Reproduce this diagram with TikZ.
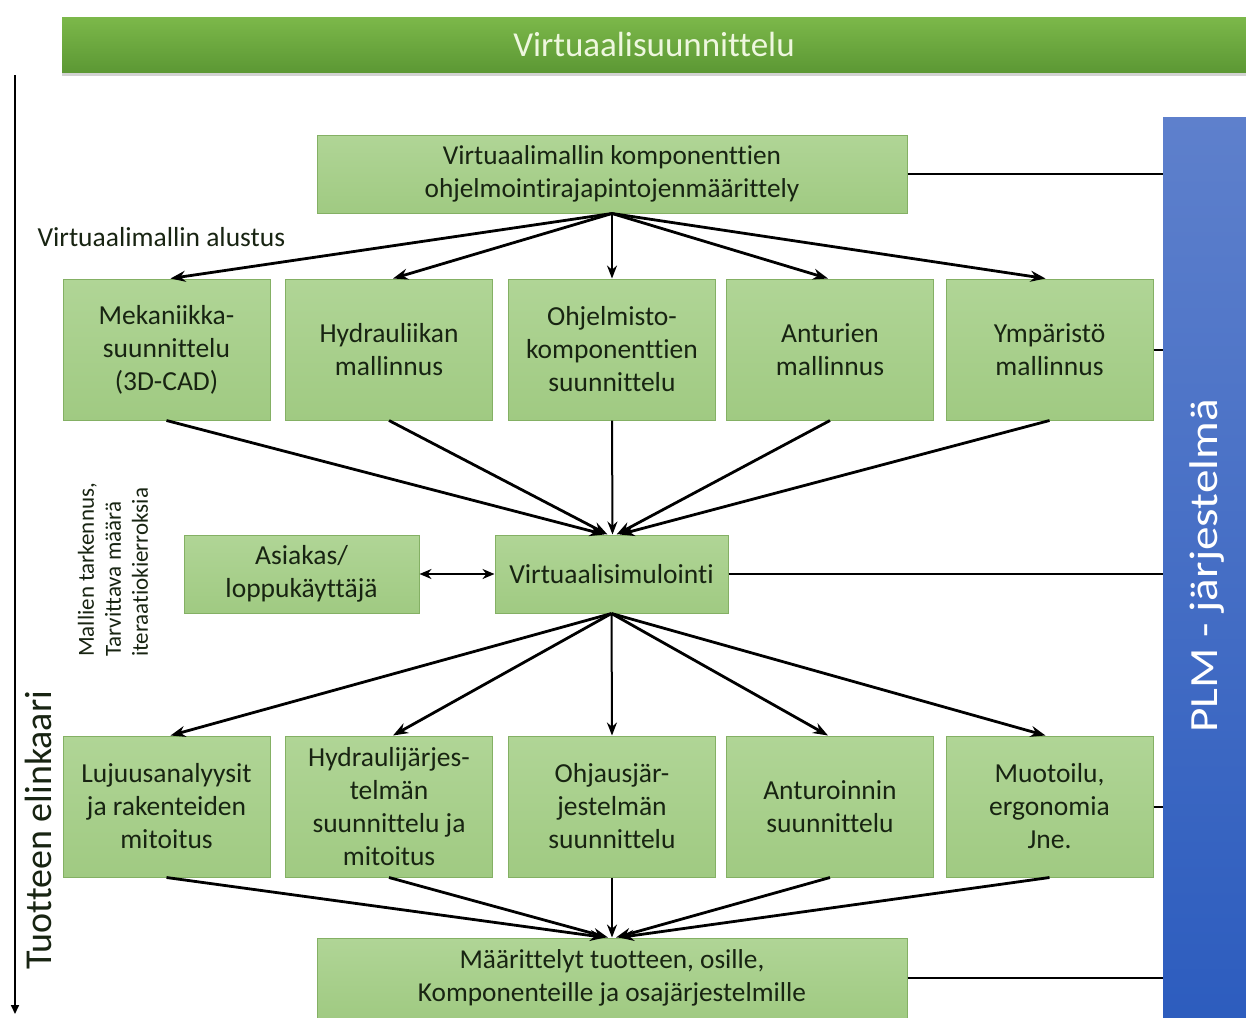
\documentclass[tikz,border=0pt]{standalone}
\usepackage{fontspec}
\setmainfont{Carlito}[Ligatures=NoCommon]
\usetikzlibrary{arrows.meta,shadows}

\definecolor{boxtop}{RGB}{176,213,150}
\definecolor{boxbot}{RGB}{160,202,130}
\definecolor{boxline}{RGB}{132,176,100}
\definecolor{txt}{RGB}{24,36,18}
\definecolor{bannertop}{RGB}{124,184,74}
\definecolor{bannerbot}{RGB}{92,152,52}
\definecolor{bannertxt}{RGB}{238,247,222}
\definecolor{plmtop}{RGB}{94,128,204}
\definecolor{plmbot}{RGB}{44,92,190}

\tikzset{
  gbox/.style={draw=boxline, line width=1pt, top color=boxtop, bottom color=boxbot,
    text=txt, align=center, inner sep=0pt, font=\fontsize{27.5}{33}\selectfont},
  rowbox/.style={gbox, minimum width=207pt, minimum height=141pt},
  wide/.style={gbox, minimum width=590pt, minimum height=78pt, font=\fontsize{27.3}{32.5}\selectfont},
  fan/.style={line width=2.8pt, -{Stealth[length=15pt,width=11pt]}},
  fanstraight/.style={line width=2pt, -{Stealth[length=13pt,width=10pt]}},
  tie/.style={line width=2pt},
}

\begin{document}
\begin{tikzpicture}[x=1pt,y=-1pt]
\useasboundingbox (0,0) rectangle (1246,1017);
\clip (0,0) rectangle (1246,1017);
\fill[white] (0,0) rectangle (1246,1017);

% banner
\node[draw=none, top color=bannertop, bottom color=bannerbot, minimum width=1184pt,
      minimum height=55pt, inner sep=0pt, text=bannertxt, font=\fontsize{35}{40}\selectfont,
      drop shadow={opacity=0.35, shadow xshift=0pt, shadow yshift=-4pt}]
  (banner) at (654,44.5) {Virtuaalisuunnittelu};

% PLM bar
\node[draw=none, top color=plmtop, bottom color=plmbot, minimum width=94pt,
      minimum height=915pt, inner sep=0pt] (plm) at (1210,574.5) {};
\node[rotate=90, text=white, font=\fontsize{40}{44}\selectfont] (plmtxt) at (1207,566)
  {\scalebox{1.18}[1]{PLM - järjestelmä}};

% life cycle axis
\coordinate (lifeA) at (15,75);
\coordinate (lifeB) at (15,1014);
\draw[line width=1.6pt, -{Triangle[length=9pt,width=8pt]}] (lifeA) -- (lifeB);
\node[rotate=90, text=txt, font=\fontsize{38}{42}\selectfont] (life) at (38,830) {Tuotteen elinkaari};

% iteration note
\node[rotate=90, align=left, text=txt, font=\fontsize{23}{27}\selectfont] (note) at (113,570)
  {Mallien tarkennus,\\Tarvittava määrä\\iteraatiokierroksia};

% top definition box
\node[wide] (top) at (612,174) {Virtuaalimallin komponenttien\\ohjelmointirajapintojenmäärittely};
\node[anchor=west, text=txt, font=\fontsize{27.5}{32}\selectfont] (init) at (34,237) {Virtuaalimallin alustus};

% first row
\node[rowbox] (a1) at (166.5,349.5) {Mekaniikka-\\suunnittelu\\(3D-CAD)};
\node[rowbox] (a2) at (389,349.5) {Hydrauliikan\\mallinnus};
\node[rowbox] (a3) at (612,349.5) {Ohjelmisto-\\komponenttien\\suunnittelu};
\node[rowbox] (a4) at (830,349.5) {Anturien\\mallinnus};
\node[rowbox] (a5) at (1049.5,349.5) {Ympäristö\\mallinnus};

% simulation
\node[gbox, minimum width=233pt, minimum height=78pt] (sim) at (611.5,574) {Virtuaalisimulointi};
\node[gbox, minimum width=235pt, minimum height=78pt] (cust) at (301.5,574) {Asiakas/\\loppukäyttäjä};

% second row
\node[rowbox] (b1) at (166.5,806.5) {Lujuusanalyysit\\ja rakenteiden\\mitoitus};
\node[rowbox] (b2) at (389,806.5) {Hydraulijärjes-\\telmän\\suunnittelu ja\\mitoitus};
\node[rowbox] (b3) at (612,806.5) {Ohjausjär-\\jestelmän\\suunnittelu};
\node[rowbox] (b4) at (830,806.5) {Anturoinnin\\suunnittelu};
\node[rowbox] (b5) at (1049.5,806.5) {Muotoilu,\\ergonomia\\Jne.};

% result box
\node[wide, minimum height=80pt] (res) at (612,978) {Määrittelyt tuotteen, osille,\\Komponenteille ja osajärjestelmille};

% fan out from the definition box
\draw[fan] (top.south) -- ([xshift=4pt]a1.north);
\draw[fan] (top.south) -- ([xshift=4pt]a2.north);
\draw[fanstraight] (top.south) -- (a3.north);
\draw[fan] (top.south) -- ([xshift=-2pt]a4.north);
\draw[fan] (top.south) -- ([xshift=-4pt]a5.north);

% fan in to the simulation
\draw[fan] (a1.south) -- ([xshift=-7pt]sim.north);
\draw[fan] (a2.south) -- ([xshift=-4pt]sim.north);
\draw[fanstraight] (a3.south) -- ([xshift=1pt]sim.north);
\draw[fan] (a4.south) -- ([xshift=5pt]sim.north);
\draw[fan] (a5.south) -- ([xshift=8pt]sim.north);

% customer feedback
\draw[line width=2pt, {Stealth[length=12pt,width=10pt]}-{Stealth[length=12pt,width=10pt]}] (cust.east) -- (sim.west);

% fan out from the simulation
\draw[fan] (sim.south) -- ([xshift=4pt]b1.north);
\draw[fan] (sim.south) -- ([xshift=4pt]b2.north);
\draw[fanstraight] (sim.south) -- (b3.north);
\draw[fan] (sim.south) -- ([xshift=-2pt]b4.north);
\draw[fan] (sim.south) -- ([xshift=-4pt]b5.north);

% fan in to the result
\draw[fan] (b1.south) -- ([xshift=-7pt]res.north);
\draw[fan] (b2.south) -- ([xshift=-4pt]res.north);
\draw[fanstraight] (b3.south) -- ([xshift=0pt]res.north);
\draw[fan] (b4.south) -- ([xshift=4pt]res.north);
\draw[fan] (b5.south) -- ([xshift=7pt]res.north);

% links to the PLM system
\draw[tie] (top.east) -- (top.east -| plm.west);
\draw[tie] (a5.east) -- (a5.east -| plm.west);
\draw[tie] (sim.east) -- (sim.east -| plm.west);
\draw[tie] (b5.east) -- (b5.east -| plm.west);
\draw[tie] (res.east) -- (res.east -| plm.west);
\end{tikzpicture}
\end{document}
